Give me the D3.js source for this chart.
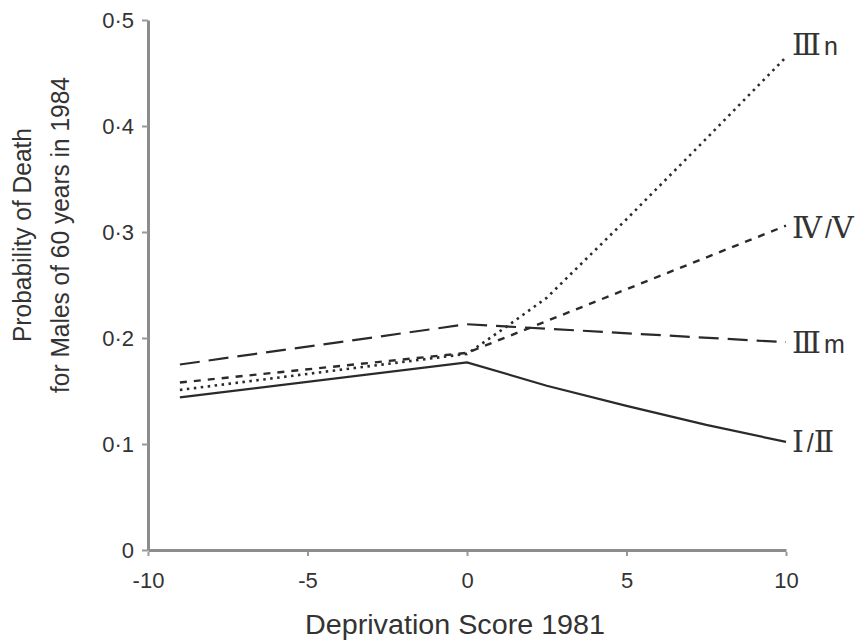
<!DOCTYPE html>
<html>
<head>
<meta charset="utf-8">
<script src="https://cdn.jsdelivr.net/npm/d3@7"></script>
<style>
  body { margin: 0; background: #fff; }
  text { font-family: "Liberation Sans", Arial, sans-serif; fill: #333; }
</style>
</head>
<body>
<div id="chart"></div>
<script>
// data
var xTicks = [-10, -5, 0, 5, 10];
var yTicks = [0, 0.1, 0.2, 0.3, 0.4, 0.5];

var scoreI_II  = [-9, 0, 2.5, 5, 7.5, 10];
var probI_II   = [0.144, 0.177, 0.155, 0.136, 0.118, 0.102];
var scoreIIIm  = [-9, 0, 10];
var probIIIm   = [0.175, 0.213, 0.196];
var scoreIV_V  = [-9, 0, 5, 10];
var probIV_V   = [0.158, 0.186, 0.246, 0.306];
var scoreIIIn  = [-9, 0, 1.3, 2.5, 5, 7.5, 10];
var probIIIn   = [0.151, 0.185, 0.212, 0.238, 0.312, 0.388, 0.465];

// label pieces: [text, isNumeral]
var seriesNames = [
  [["Ⅰ", 1], ["/", 0], ["Ⅱ", 1]],
  [["Ⅲ", 1], ["m", 0]],
  [["Ⅳ", 1], ["/", 0], ["Ⅴ", 1]],
  [["Ⅲ", 1], ["n", 0]]
];
var labelY = [0.098, 0.1915, 0.300, 0.4726];

// line styles for each series
var styles = [
  {dash: null,   width: 2.2},
  {dash: "20,9", width: 2.2},
  {dash: "7,7",  width: 2.4},
  {dash: "2.5,4.5", width: 2.6}
];

var W = 856, H = 642;
var margin = {top: 20, right: 70, bottom: 92, left: 148};
var _width = W - margin.left - margin.right;   // 638
var _height = H - margin.top - margin.bottom;  // 530

var svg = d3.select("#chart").append("svg")
  .attr("width", W).attr("height", H);
var g = svg.append("g")
  .attr("transform", "translate(" + margin.left + "," + margin.top + ")");

var x = d3.scaleLinear().domain([-10, 10]).range([0, _width]);
var y = d3.scaleLinear().domain([0, 0.5]).range([_height, 0]);

function fmtY(d) {
  return d === 0 ? "0" : d3.format(".1f")(d).replace(".", "·");
}

// axes
var yAxis = g.append("g")
  .call(d3.axisLeft(y).tickValues(yTicks).tickFormat(fmtY)
    .tickSize(6).tickPadding(8).tickSizeOuter(0));
var xAxis = g.append("g")
  .attr("transform", "translate(0," + _height + ")")
  .call(d3.axisBottom(x).tickValues(xTicks).tickFormat(function(d) { return String(d); })
    .tickSize(6).tickPadding(16).tickSizeOuter(0));

[yAxis, xAxis].forEach(function(a) {
  a.select(".domain").attr("stroke", "#8c8c8c").attr("stroke-width", 3);
  a.selectAll(".tick line").attr("stroke", "#999").attr("stroke-width", 2);
  a.selectAll(".tick text").attr("font-size", 22).attr("fill", "#4a4a4a")
    .attr("font-family", "Liberation Sans, Arial, sans-serif");
});
xAxis.selectAll(".tick line").attr("y1", 2);

// the four lines
var data = [
  d3.zip(scoreI_II, probI_II),
  d3.zip(scoreIIIm, probIIIm),
  d3.zip(scoreIV_V, probIV_V),
  d3.zip(scoreIIIn, probIIIn)
];

var line = d3.line()
  .x(function(d) { return x(d[0]); })
  .y(function(d) { return y(d[1]); });

data.forEach(function(s, i) {
  g.append("path")
    .datum(s)
    .attr("d", line)
    .attr("fill", "none")
    .attr("stroke", "#2a2a2a")
    .attr("stroke-width", styles[i].width)
    .attr("stroke-dasharray", styles[i].dash);
});

// series labels at the right end
seriesNames.forEach(function(parts, i) {
  var t = g.append("text")
    .attr("x", x(10) + 6)
    .attr("y", y(labelY[i]))
    .attr("dy", "0.36em")
    .attr("fill", "#666");
  parts.forEach(function(p) {
    t.append("tspan")
      .attr("font-family", p[1] ? "DejaVu Serif, serif" : "Liberation Sans, sans-serif")
      .attr("font-size", p[1] ? 30 : 25)
      .attr("dx", p[1] ? 0 : 3)
      .text(p[0]);
  });
});

// axis titles
svg.append("text")
  .attr("x", 455).attr("y", 634)
  .attr("text-anchor", "middle")
  .attr("font-size", 27)
  .attr("textLength", 300).attr("lengthAdjust", "spacingAndGlyphs")
  .text("Deprivation Score 1981");

var ylab = svg.append("text")
  .attr("transform", "translate(0,235) rotate(-90)")
  .attr("text-anchor", "middle")
  .attr("font-size", 26);
ylab.append("tspan").attr("x", 0).attr("y", 31)
  .attr("textLength", 214).attr("lengthAdjust", "spacingAndGlyphs")
  .text("Probability of Death");
ylab.append("tspan").attr("x", 0).attr("y", 69)
  .attr("textLength", 316).attr("lengthAdjust", "spacingAndGlyphs")
  .text("for Males of 60 years in 1984");
</script>
</body>
</html>
